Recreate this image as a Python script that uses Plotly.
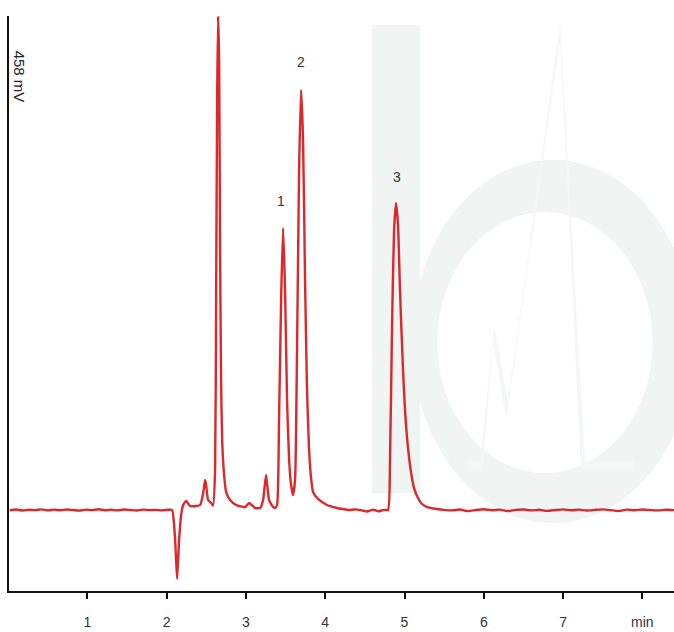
import plotly.graph_objects as go

# Retention time (min) and detector signal (mV)
time_min = [
    0.02, 0.10, 0.18, 0.26, 0.34, 0.42, 0.50, 0.58, 0.66, 0.74, 0.82, 0.90, 0.98,
    1.06, 1.14, 1.22, 1.30, 1.38, 1.46, 1.54, 1.62, 1.70, 1.78, 1.86, 1.94, 2.02, 2.068,
    2.106, 2.131, 2.156, 2.182, 2.207, 2.245, 2.295, 2.371, 2.421, 2.46, 2.484, 2.497,
    2.522, 2.560, 2.585,
    2.610, 2.623, 2.636, 2.648, 2.661, 2.673, 2.686, 2.699, 2.724, 2.749,
    2.799, 2.875, 2.989, 3.039, 3.115, 3.178, 3.216, 3.253, 3.291, 3.342, 3.367,
    3.392, 3.417, 3.443, 3.468, 3.493, 3.518, 3.544, 3.569, 3.594,
    3.619, 3.644, 3.670, 3.695, 3.720, 3.745, 3.770, 3.796, 3.821, 3.846, 3.909, 4.023, 4.149,
    4.22, 4.30, 4.38, 4.46, 4.53, 4.60, 4.67, 4.74, 4.792,
    4.817, 4.842, 4.868, 4.893, 4.918, 4.943, 4.981, 5.019, 5.069, 5.120, 5.170, 5.221,
    5.284, 5.410,
    5.50, 5.60, 5.70, 5.80, 5.90, 6.00, 6.10, 6.20, 6.30, 6.40, 6.50, 6.60, 6.70, 6.80,
    6.90, 7.00, 7.10, 7.20, 7.30, 7.40, 7.50, 7.60, 7.70, 7.80, 7.90, 8.00, 8.10, 8.20,
    8.30, 8.40,
]
signal_mv = [
    64.3, 64.9, 64.1, 64.7, 64.4, 65.0, 64.2, 64.8, 64.3, 64.9, 64.5, 64.0, 64.8,
    64.4, 65.1, 64.3, 64.7, 64.2, 64.9, 64.5, 64.1, 64.8, 64.4, 64.6, 64.2, 64.7, 64.5,
    40.6, 9.6, 40.6, 60.5, 68.5, 71.7, 67.7, 67.7, 68.5, 78.0, 88.4, 84.4,
    72.5, 70.1, 68.0,
    96.4, 231.8, 391.1, 458.0, 422.9, 271.6, 168.1, 120.3, 92.4, 78.9,
    72.5, 68.5, 66.9, 70.1, 66.1, 66.1, 72.5, 92.4, 72.5, 67.0, 66.1,
    68.5, 136.2, 231.8, 289.1, 239.7, 152.1, 104.3, 84.4, 76.5,
    88.4, 192.0, 335.3, 399.0, 359.2, 247.7, 160.1, 112.3, 90.0, 78.9, 73.3, 68.5, 66.1,
    65.3, 64.5, 65.0, 64.2, 63.3, 64.8, 63.5, 64.6, 64.5,
    104.3, 207.9, 287.5, 309.0, 291.5, 239.7, 176.0, 132.2, 100.4, 82.0, 74.1, 69.3,
    66.9, 65.3,
    64.6, 64.2, 64.9, 63.6, 64.5, 65.1, 64.3, 64.8, 63.7, 64.6, 64.9, 64.2, 64.7, 63.8,
    64.5, 65.0, 64.3, 64.8, 64.1, 64.6, 65.0, 64.4, 63.7, 64.8, 64.3, 64.9, 64.5, 64.2,
    64.7, 64.4,
]

# Numbered peaks: label, retention time, label height (mV)
peak_labels = ["1", "2", "3"]
peak_times = [3.44, 3.70, 4.90]
peak_label_y = [311.0, 421.0, 330.0]

tick_vals = [1, 2, 3, 4, 5, 6, 7, 8]
tick_text = ["1", "2", "3", "4", "5", "6", "7", "min"]

full_scale_mv = 458
x_range = [0.01, 8.40]

mark = "#f0f4f2"
mark_soft = "#f5f7f6"

fig = go.Figure()
fig.add_trace(go.Scatter(
    x=time_min, y=signal_mv, mode="lines",
    line=dict(color="#dc272c", width=2.4, shape="spline", smoothing=0.5),
    hoverinfo="skip", showlegend=False,
))

for lab, t, y in zip(peak_labels, peak_times, peak_label_y):
    fig.add_annotation(x=t, y=y, text=lab, showarrow=False,
                       font=dict(family="Liberation Sans, Arial", size=14, color="#333333"))

fig.add_annotation(xref="paper", yref="paper", x=0.0155, y=0.894,
                   xanchor="center", yanchor="middle",
                   text=f"{full_scale_mv} mV", textangle=90, showarrow=False,
                   font=dict(family="Liberation Sans, Arial", size=15, color="#222222"))

# Background logo: stem, bowl ring, and a faint peak inside the bowl
shapes = [
    dict(type="rect", xref="paper", yref="paper", x0=0.546, x1=0.618, y0=0.17, y1=0.985,
         fillcolor=mark, line_width=0, layer="below"),
    dict(type="circle", xref="paper", yref="paper", x0=0.606, x1=1.03, y0=0.118, y1=0.75,
         fillcolor=mark, line_width=0, layer="below"),
    dict(type="circle", xref="paper", yref="paper", x0=0.644, x1=0.968, y0=0.205, y1=0.659,
         fillcolor="white", line_width=0, layer="below"),
    dict(type="path", xref="paper", yref="paper",
         path="M 0.69 0.21 L 0.712 0.21 L 0.728 0.43 L 0.748 0.30 L 0.829 0.96 L 0.86 0.21 L 0.94 0.21 L 0.94 0.225 L 0.866 0.225 L 0.829 0.99 L 0.750 0.33 L 0.730 0.46 L 0.708 0.225 L 0.69 0.225 Z",
         fillcolor=mark_soft, line_width=0, layer="below"),
]

fig.update_layout(
    width=674, height=632,
    margin=dict(l=9, r=0, t=16, b=41),
    paper_bgcolor="white", plot_bgcolor="white",
    shapes=shapes,
    xaxis=dict(range=x_range, showgrid=False, zeroline=False,
               showline=True, linecolor="#111111", linewidth=2,
               tickmode="array", tickvals=tick_vals, ticktext=tick_text,
               ticks="outside", ticklen=6, tickwidth=2, tickcolor="#111111",
               ticklabelstandoff=11,
               tickfont=dict(family="Liberation Sans, Arial", size=14, color="#333333")),
    yaxis=dict(range=[0, full_scale_mv], showgrid=False, zeroline=False,
               showline=True, linecolor="#111111", linewidth=2,
               showticklabels=False, ticks=""),
)

fig.write_html("out.html")
